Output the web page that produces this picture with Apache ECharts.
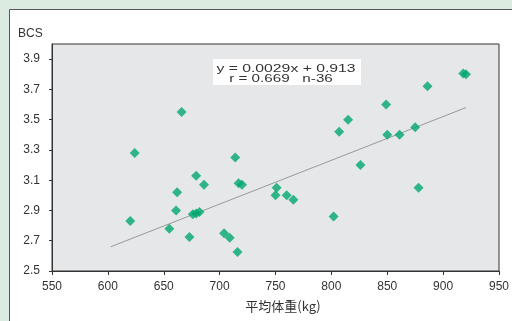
<!DOCTYPE html>
<html>
<head>
<meta charset="utf-8">
<script src="https://cdn.jsdelivr.net/npm/echarts@6/dist/echarts.min.js"></script>
<style>
html,body{margin:0;padding:0;background:#dcebe1;}
#c{width:512px;height:321px;}
</style>
</head>
<body>
<div id="c"></div>
<script>
// Data
const weights = [666, 624, 714, 679, 918, 920.5, 886, 849, 815, 807, 850, 861, 875, 826, 717, 720, 686, 662, 661, 620, 676, 679, 682, 655, 673, 704, 709, 716, 751, 750, 760, 766, 802, 878];
const bcs =     [3.55, 3.28, 3.25, 3.13, 3.805, 3.80, 3.72, 3.60, 3.50, 3.42, 3.40, 3.40, 3.45, 3.20, 3.08, 3.07, 3.07, 3.02, 2.90, 2.83, 2.875, 2.88, 2.89, 2.78, 2.725, 2.75, 2.72, 2.625, 3.05, 3.00, 3.00, 2.97, 2.86, 3.05];
const trendX = [602.5, 920.5];
const trendY = [2.66, 3.58];
const xTicks = [550, 600, 650, 700, 750, 800, 850, 900, 950];
const yTicks = [2.5, 2.7, 2.9, 3.1, 3.3, 3.5, 3.7, 3.9];
const eqLine1 = 'y = 0.0029x + 0.913';
const eqLine2 = 'r = 0.669   n-36';
const xName = '平均体重(kg)';
const yName = 'BCS';

const points = weights.map((w, i) => [w, bcs[i]]);
const trend = trendX.map((x, i) => [x, trendY[i]]);

const chart = echarts.init(document.getElementById('c'), null, {renderer: 'canvas'});
const labelFont = {fontFamily: 'Liberation Sans', fontSize: 12, color: '#333'};
chart.setOption({
  backgroundColor: '#dcebe1',
  animation: false,
  grid: {left: 52, right: 13, top: 44, bottom: 50, show: true, backgroundColor: '#e6e7e9', borderColor: '#333', borderWidth: 1, outerBoundsMode: 'none'},
  xAxis: {
    type: 'value', min: 550, max: 950, interval: 50,
    axisLine: {show: true, lineStyle: {color: '#333'}},
    axisTick: {show: true, length: 4, lineStyle: {color: '#333'}, customValues: xTicks},
    axisLabel: Object.assign({margin: 10, customValues: xTicks}, labelFont),
    splitLine: {show: false}
  },
  yAxis: {
    type: 'value', min: 2.5, max: 4.0,
    axisLine: {show: true, lineStyle: {color: '#333'}},
    axisTick: {show: true, length: 3, lineStyle: {color: '#333'}, customValues: yTicks},
    axisLabel: Object.assign({margin: 12, customValues: yTicks, formatter: v => v.toFixed(1)}, labelFont),
    splitLine: {show: false}
  },
  series: [
    {type: 'line', data: trend, symbol: 'none', lineStyle: {color: '#999', width: 1}, z: 2, silent: true},
    {type: 'scatter', data: points, symbol: 'diamond', symbolSize: [10, 10], itemStyle: {color: '#00a86e'}, z: 3}
  ],
  graphic: [
    {type: 'rect', z: -10, shape: {x: 9.5, y: 9.5, width: 510, height: 320}, style: {fill: '#fff', stroke: '#555', lineWidth: 1}},
    {type: 'rect', z: 10, shape: {x: 213, y: 59, width: 148, height: 26}, style: {fill: '#fff'}},
    {type: 'text', z: 11, x: 286, y: 69.5, scaleX: 1.5, style: {text: eqLine1, fontFamily: 'Liberation Sans', fontSize: 10.5, fill: '#333', align: 'center', verticalAlign: 'middle'}},
    {type: 'text', z: 11, x: 281, y: 79, scaleX: 1.45, style: {text: eqLine2, fontFamily: 'Liberation Sans', fontSize: 10.5, fill: '#333', align: 'center', verticalAlign: 'middle'}},
    {type: 'text', z: 11, x: 18, y: 34, style: {text: yName, fontFamily: 'Liberation Sans', fontSize: 12, fill: '#333', align: 'left', verticalAlign: 'middle'}},
    {type: 'text', z: 11, x: 283, y: 306.5, style: {text: xName, fontFamily: 'Noto Sans CJK JP', fontSize: 13, fill: '#333', align: 'center', verticalAlign: 'middle'}}
  ]
});
</script>
</body>
</html>
